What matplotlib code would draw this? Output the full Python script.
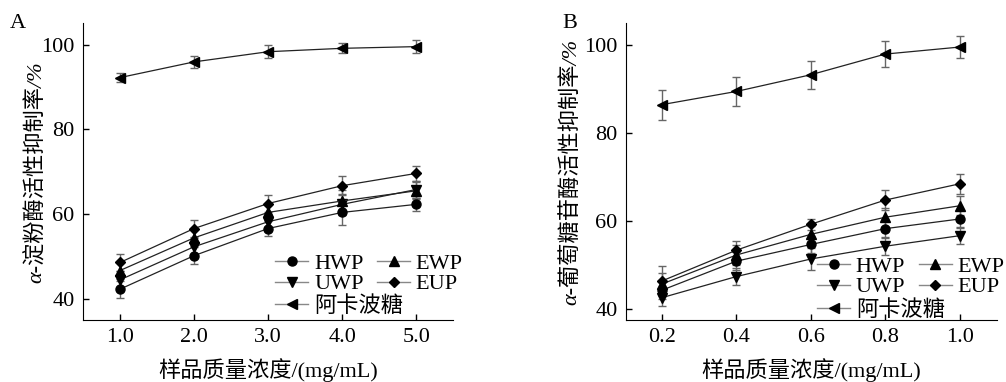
import matplotlib
matplotlib.use("Agg")
import matplotlib.pyplot as plt

plt.rcParams['font.family'] = ['Liberation Serif', 'Noto Sans CJK SC']
plt.rcParams['font.size'] = 16

# panel A: alpha-amylase
conc_a = [1.0, 2.0, 3.0, 4.0, 5.0]
hwp_a = [42.3, 50.2, 56.6, 60.4, 62.3]
uwp_a = [44.5, 52.3, 58.2, 62.3, 65.8]
ewp_a = [46.7, 54.4, 60.4, 63.1, 65.5]
eup_a = [48.6, 56.6, 62.5, 66.7, 69.6]
aca_a = [92.2, 95.9, 98.3, 99.1, 99.5]
hwp_a_err = [2.0, 2.0, 1.8, 3.0, 1.5]
uwp_a_err = [2.0, 2.0, 1.8, 2.5, 2.0]
ewp_a_err = [2.0, 2.0, 1.8, 2.5, 2.0]
eup_a_err = [2.0, 2.0, 2.0, 2.2, 1.8]
aca_a_err = [1.0, 1.4, 1.6, 1.2, 1.5]

# panel B: alpha-glucosidase
conc_b = [0.2, 0.4, 0.6, 0.8, 1.0]
hwp_b = [44.3, 50.9, 54.7, 58.3, 60.5]
uwp_b = [42.6, 47.4, 51.4, 54.3, 56.7]
ewp_b = [45.7, 52.3, 57.0, 60.9, 63.5]
eup_b = [46.4, 53.4, 59.3, 64.8, 68.5]
aca_b = [86.5, 89.5, 93.3, 98.0, 99.6]
hwp_b_err = [2.0, 2.0, 2.0, 2.2, 2.0]
uwp_b_err = [2.0, 2.0, 2.4, 2.0, 2.0]
ewp_b_err = [2.5, 2.2, 2.0, 2.2, 2.2]
eup_b_err = [3.4, 2.0, 1.2, 2.2, 2.3]
aca_b_err = [3.4, 3.2, 3.2, 3.0, 2.6]

names = ['HWP', 'UWP', 'EWP', 'EUP', '阿卡波糖']
markers = ['o', 'v', '^', 'D', '<']

fig = plt.figure(figsize=(10.06, 3.82), dpi=100)
ax1 = fig.add_axes([0.0825, 0.162, 0.368, 0.777])
ax2 = fig.add_axes([0.622, 0.162, 0.369, 0.777])


def msize(m):
    return 5.2 if m == 'D' else 6.5


def draw(ax, x, series, errs, xticks, xlim, ylim, ylabel, ypad, tag, tagx,
         legx, legy1, legy2):
    for y, e, m in zip(series, errs, markers):
        ax.errorbar(x, y, yerr=e, fmt='none', ecolor='#666666', elinewidth=1,
                    capsize=3, capthick=1, zorder=1)
        ax.plot(x, y, '-', color='#222222', lw=0.9, marker=m, ms=msize(m),
                mfc='black', mec='black', zorder=2)
    ax.set_xlim(*xlim)
    ax.set_ylim(*ylim)
    ax.set_xticks(xticks)
    ax.set_xticklabels(['%.1f' % t for t in xticks])
    ax.set_yticks([40, 60, 80, 100])
    ax.spines['top'].set_visible(False)
    ax.spines['right'].set_visible(False)
    ax.tick_params(direction='in', length=4, width=1, labelsize=16, pad=6)
    ax.set_xlabel('样品质量浓度/(mg/mL)', fontsize=16, labelpad=8)
    ax.set_ylabel(ylabel, fontsize=16, style='italic', labelpad=ypad)
    leg_h = [plt.Line2D([], [], color='#888888', lw=1, marker=m,
                        ms=msize(m), mfc='black', mec='black')
             for m in markers]
    opts = dict(frameon=False, loc='upper left', fontsize=16, handlelength=1.5,
                handletextpad=0.25, columnspacing=0.6, labelspacing=0.0,
                borderpad=0, borderaxespad=0)
    leg1 = ax.legend(leg_h[:4], names[:4], ncol=2, bbox_to_anchor=(legx, legy1), **opts)
    ax.add_artist(leg1)
    ax.legend(leg_h[4:], names[4:], bbox_to_anchor=(legx, legy2), **opts)
    ax.text(tagx, 1.0, tag, transform=ax.transAxes, fontsize=16,
            ha='left', va='center')


draw(ax1, conc_a, [hwp_a, uwp_a, ewp_a, eup_a, aca_a],
     [hwp_a_err, uwp_a_err, ewp_a_err, eup_a_err, aca_a_err],
     conc_a, (0.5, 5.5), (35, 105), 'α-淀粉酶活性抑制率/%', -4, 'A',
     -0.197, 0.519, 0.225, 0.082)
draw(ax2, conc_b, [hwp_b, uwp_b, ewp_b, eup_b, aca_b],
     [hwp_b_err, uwp_b_err, ewp_b_err, eup_b_err, aca_b_err],
     conc_b, (0.103, 1.1), (37.5, 105), 'α-葡萄糖苷酶活性抑制率/%', 2, 'B',
     -0.17, 0.515, 0.215, 0.068)

fig.savefig('out.png', dpi=100)
